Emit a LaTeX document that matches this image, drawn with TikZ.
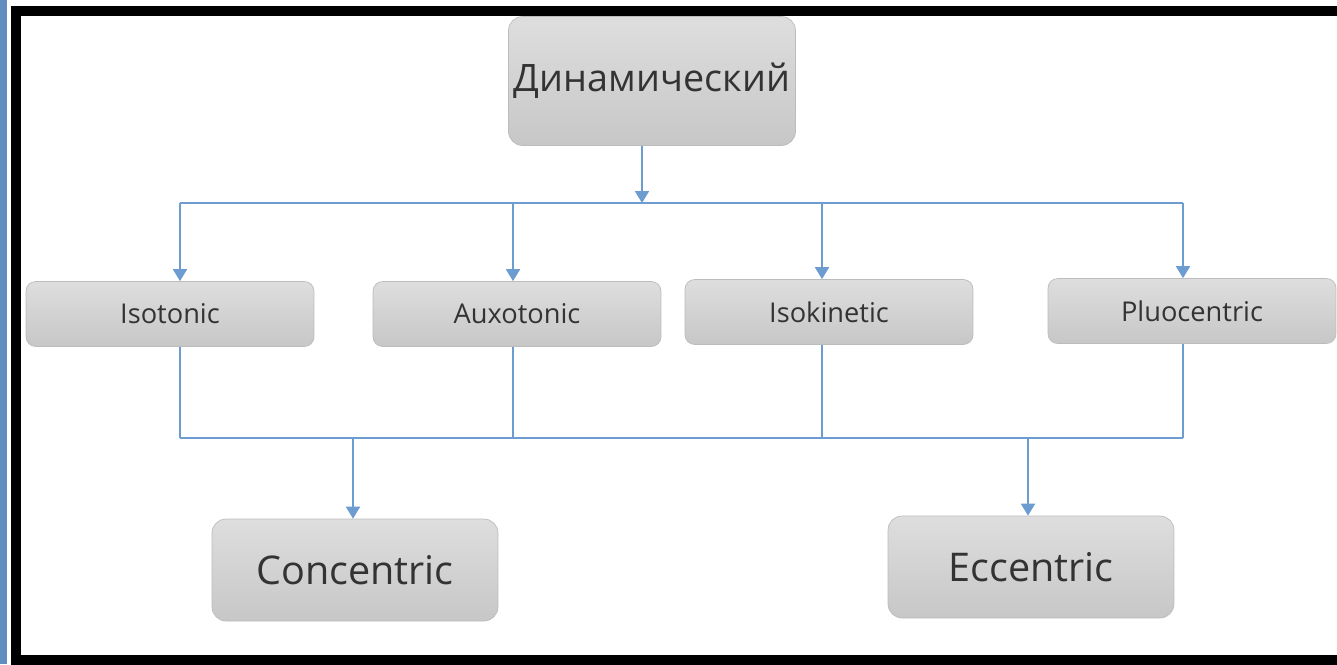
\documentclass[tikz,border=0pt]{standalone}
\usepackage{fontspec}
\setmainfont{Open Sans}
\usetikzlibrary{arrows.meta,positioning}
\definecolor{myline}{RGB}{108,156,208}
\definecolor{mystrip}{RGB}{96,142,192}
\definecolor{mygray}{RGB}{188,188,188}

\begin{document}
\begin{tikzpicture}[x=0.02cm, y=-0.02cm,
    box/.style={rounded corners=5.5pt, draw=mygray, top color=black!13,
        bottom color=black!22, text=black!80, inner sep=2pt,
        minimum width=5.76cm, minimum height=1.3cm,
        font=\fontsize{15.5}{18}\selectfont},
    bigbox/.style={box, rounded corners=8pt, minimum width=5.72cm,
        minimum height=2.04cm, font=\fontsize{22.5}{26}\selectfont},
    flow/.style={-{Triangle[length=2.4mm, width=2.8mm]}, line width=1.1pt, myline},
    bus/.style={line width=1.1pt, myline}
]
\fill[white] (0,0) rectangle (1337,664);
\useasboundingbox (0,0) rectangle (1337,664);
\fill[mystrip] (0,0) rectangle (7,664);
\draw[line width=0.2cm] (1337,11) -- (16,11) -- (16,659.5) -- (1337,659.5);

\node[bigbox, minimum width=5.74cm, minimum height=2.58cm,
    font=\fontsize{21.5}{25}\selectfont] (dyn) at (652,81) {Динамический};
\node[box] (iso) at (170,314) {Isotonic};
\node[box] (aux) at (517,314) {Auxotonic};
\node[box] (isok) at (829,312) {Isokinetic};
\node[box] (pluo) at (1192,311) {Pluocentric};
\node[bigbox] (conc) at (355,570) {Concentric};
\node[bigbox] (ecc) at (1031,567) {Eccentric};

% upper and lower bus lines
\coordinate (top) at (642,203);
\coordinate (b1) at (180,203); \coordinate (b2) at (513,203);
\coordinate (b3) at (822,203); \coordinate (b4) at (1183,203);
\coordinate (d1) at (180,438); \coordinate (d2) at (513,438);
\coordinate (d3) at (822,438); \coordinate (d4) at (1183,438);
\coordinate (e1) at (353,438); \coordinate (e2) at (1028,438);

\draw[bus] (b1) -- (b4); \draw[flow] (dyn.south -| top) -- (top);
\foreach \b/\n in {b1/iso, b2/aux, b3/isok, b4/pluo}
    \draw[flow] (\b) -- (\n.north -| \b);
\foreach \d/\n in {d1/iso, d2/aux, d3/isok, d4/pluo}
    \draw[bus] (\n.south -| \d) -- (\d);
\draw[bus] (d1) -- (d4);
\draw[flow] (e1) -- (conc.north -| e1); \draw[flow] (e2) -- (ecc.north -| e2);
\end{tikzpicture}
\end{document}
